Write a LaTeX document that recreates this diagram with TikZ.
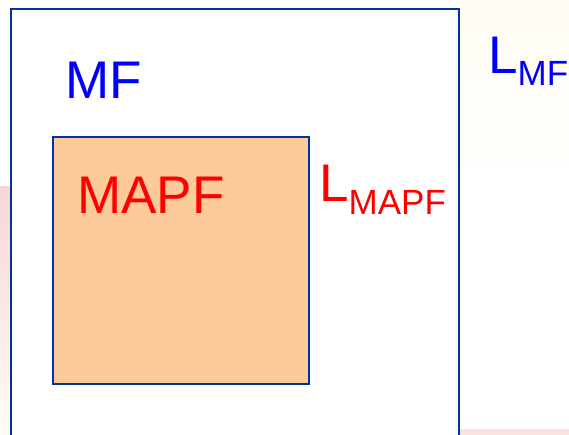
\documentclass[tikz,border=0pt]{standalone}
\usepackage{fontspec}
\setmainfont{Liberation Sans}
\usepackage{xcolor}
\usetikzlibrary{positioning}

\definecolor{frameblue}{RGB}{0,51,160}
\definecolor{peach}{RGB}{253,202,153}
\definecolor{slidepink}{RGB}{248,214,214}
\definecolor{slidecream}{RGB}{255,252,242}

\tikzset{
  setbox/.style={draw=frameblue, line width=2pt},
  bigtext/.style={anchor=base west, inner sep=0pt, font=\fontsize{53}{53}\selectfont},
}
\newcommand{\lowsub}[2]{\raisebox{-#1}{\fontsize{35}{35}\selectfont #2}}

\begin{document}
\begin{tikzpicture}[x=1pt, y=-1pt]
		\useasboundingbox (0,0) rectangle (569,435);
		\clip (0,0) rectangle (569,435);
		% slide background behind the sets
		\shade [top color=slidecream, bottom color=white] (460,0) rectangle (569,200);
		\shade [top color=slidepink, bottom color=slidecream] (0,187) rectangle (11,435);
		\fill [slidepink!70] (460,429) rectangle (569,435);
		% the two sets
		\draw [setbox, fill=white] (11,9) rectangle (459,445);
		\draw [setbox, fill=peach] (53,137) rectangle (309,384);
		% labels
		\node [bigtext, text=blue] (mf) at (65,99) {MF};
		\node [bigtext, text=red] (mapf) at (77,214) {MAPF};
		\node [bigtext, text=red] (lmapf) at (319,202) {L\lowsub{13pt}{MAPF}};
		\node [bigtext, text=blue] (lmf) at (488,74) {L\lowsub{12pt}{MF}};
\end{tikzpicture}
\end{document}
